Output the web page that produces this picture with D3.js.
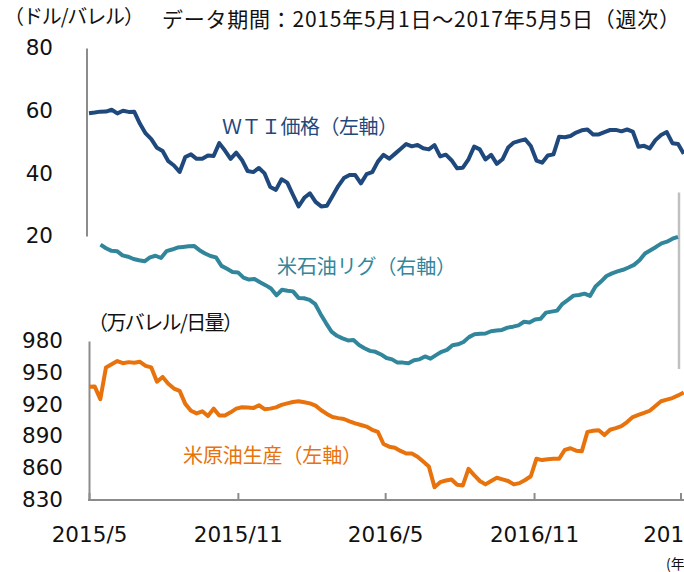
<!DOCTYPE html>
<html lang="ja">
<head>
<meta charset="utf-8">
<script src="https://cdn.jsdelivr.net/npm/d3@7"></script>
<style>
  body { margin: 0; background: #fff; }
  svg { display: block; }
  text { font-family: "Noto Sans CJK JP", sans-serif; }
  .num text { font-family: "DejaVu Sans", "Noto Sans CJK JP", sans-serif; }
</style>
</head>
<body>
<div id="chart"></div>
<script>
// weekly (Fridays) 2015/5/1 - 2017/5/5
const startDate = new Date(Date.UTC(2015, 4, 1));

// WTI price, USD/bbl (left axis, upper)
const wtiPrice = [
  59.15, 59.39, 59.69, 59.72, 60.30, 59.13, 59.96, 59.61, 59.63, 55.8,
  52.74, 50.89, 48.14, 47.12, 43.87, 42.50, 40.45, 45.22, 46.05, 44.63,
  44.68, 45.70, 45.54, 49.63, 47.26, 44.60, 46.59, 44.29, 40.74, 40.39,
  41.71, 39.97, 35.62, 34.73, 38.10, 37.04, 33.16, 29.42, 32.19, 33.62,
  30.89, 29.44, 29.64, 32.78, 35.92, 38.50, 39.44, 39.46, 36.79, 39.72,
  40.36, 43.73, 45.92, 44.66, 46.21, 47.75, 49.33, 48.62, 49.07, 47.98,
  47.64, 48.99, 45.41, 45.95, 44.19, 41.60, 41.80, 44.49, 48.52, 47.64,
  44.44, 45.88, 43.03, 44.48, 48.24, 49.81, 50.35, 50.85, 48.70, 44.07,
  43.41, 45.69, 46.06, 51.68, 51.50, 51.90, 53.02, 53.72, 53.99, 52.37,
  52.42, 53.17, 53.83, 53.86, 53.40, 53.99, 53.33, 48.49, 48.78, 47.97,
  50.60, 52.24, 53.18, 49.62, 49.33, 46.22
];

// US oil rig count (right axis)
const rigCount = [
  679, 668, 660, 659, 646, 642, 635, 631, 628, 640,
  645, 638, 659, 664, 670, 672, 674, 675, 662, 652,
  644, 640, 614, 605, 595, 594, 578, 572, 574, 564,
  555, 545, 524, 541, 538, 536, 516, 515, 510, 498,
  467, 439, 413, 400, 392, 386, 387, 372, 362, 354,
  351, 343, 332, 328, 318, 318, 316, 325, 328, 337,
  330, 341, 351, 357, 371, 374, 381, 396, 405, 406,
  407, 414, 416, 418, 425, 428, 432, 443, 441, 450,
  452, 471, 474, 477, 498, 510, 523, 525, 529, 522,
  551, 566, 583, 591, 597, 602, 609, 617, 631, 652,
  662, 672, 683, 688, 697, 703
];

// US crude production, 10k bbl/day (left axis, lower)
const crudeProd = [
  936.6, 937, 925, 955, 958, 961, 959, 960, 959.5, 960.3,
  956.5, 955, 941.5, 946, 939.5, 935, 932.8, 920.5, 914, 911.5,
  913.5, 909, 916, 909.5, 909.5, 912.5, 916, 917.3, 917, 916.5,
  919.2, 915.5, 916, 917.2, 919.5, 921, 922.3, 923, 922, 921,
  918.8, 914.5, 911, 908, 907, 906.2, 904, 902, 900.5, 899,
  896, 894, 882.5, 880, 879, 876, 873.5, 873.5, 870.5, 866,
  861.3, 841.7, 846.4, 848, 849, 844, 843.3, 859, 853, 847.5,
  844.3, 847.5, 850.6, 849, 847.5, 844.3, 845.5, 848.5, 852, 868.6,
  867.3, 868, 868.5, 868.6, 877, 878.5, 876.2, 875.6, 894, 895,
  895.5, 891, 896, 897.6, 899.5, 903.3, 908, 910, 911.9, 914,
  918.5, 923, 924.5, 926, 928.5, 931.3
];

const wtiTicks = [20, 40, 60, 80];
const prodTicks = [830, 860, 890, 920, 950, 980];
const monthTicks = ["2015-05-01", "2015-11-01", "2016-05-01", "2016-11-01", "2017-05-01"];
const monthLabels = ["2015/5", "2015/11", "2016/5", "2016/11", "2017/5"];

const width = 684, height = 572;
const axisGray = "#8c8c8c";
const colors = { wti: "#1f497d", rig: "#31869b", prod: "#e8720c" };

const weeks = wtiPrice.map((d, i) => d3.utcDay.offset(startDate, i * 7));
const tickDates = monthTicks.map(d => new Date(d + "T00:00:00Z"));

const svg = d3.select("#chart").append("svg")
  .attr("width", width)
  .attr("height", height);

// scales
const x = d3.scaleUtc()
  .domain([tickDates[0], tickDates[4]])
  .range([89, 680.5]);

// the rig panel sits inside its own, slightly narrower, plot area
const xRig = d3.scaleUtc()
  .domain([weeks[0], weeks[weeks.length - 1]])
  .range([100.5, 678]);

const yWti = d3.scaleLinear().domain([20, 80]).range([236, 48]);
const yProd = d3.scaleLinear().domain([830, 980]).range([499.5, 341]);
const yRig = d3.scaleLinear().domain([300, 840]).range([368.5, 192]);

// axes
const gWti = svg.append("g")
  .attr("class", "num")
  .attr("transform", "translate(86.5,0)")
  .call(d3.axisLeft(yWti).tickValues(wtiTicks).tickSize(0).tickPadding(33.5));

const gProd = svg.append("g")
  .attr("class", "num")
  .attr("transform", "translate(89,0)")
  .call(d3.axisLeft(yProd).tickValues(prodTicks).tickSize(0).tickPadding(26));

[gWti, gProd].forEach(g => {
  g.select(".domain").attr("stroke", axisGray).attr("stroke-width", 2);
  g.selectAll("text").attr("font-size", 21.5).attr("fill", "#111");
});

const gRig = svg.append("g")
  .attr("transform", "translate(678.5,0)")
  .call(d3.axisRight(yRig).tickValues([]).tickSizeOuter(0));
gRig.select(".domain").attr("stroke", "#c0c0c0").attr("stroke-width", 2.5);

const gX = svg.append("g")
  .attr("class", "num")
  .attr("transform", "translate(0,500)")
  .call(d3.axisBottom(x)
    .tickValues(tickDates)
    .tickSize(-7)
    .tickPadding(27)
    .tickFormat((d, i) => monthLabels[i]));
gX.select(".domain").remove();
gX.selectAll(".tick line").attr("stroke", axisGray).attr("stroke-width", 2);
gX.selectAll("text").attr("font-size", 21.5).attr("fill", "#111");
gX.append("line")
  .attr("x1", x(tickDates[0]) - 1)
  .attr("x2", width)
  .attr("stroke", axisGray)
  .attr("stroke-width", 2);

// lines
const lineWti = d3.line().x((d, i) => x(weeks[i])).y(d => yWti(d));
const lineProd = d3.line().x((d, i) => x(weeks[i])).y(d => yProd(d));
const lineRig = d3.line().x((d, i) => xRig(weeks[i])).y(d => yRig(d));

[[crudeProd, lineProd, colors.prod], [rigCount, lineRig, colors.rig], [wtiPrice, lineWti, colors.wti]]
  .forEach(([data, gen, c]) => {
    svg.append("path")
      .datum(data)
      .attr("d", gen)
      .attr("fill", "none")
      .attr("stroke", c)
      .attr("stroke-width", 4)
      .attr("stroke-linejoin", "round")
      .attr("stroke-linecap", "butt");
  });

// texts
function label(txt, xPos, yPos, size, fill, len) {
  const t = svg.append("text")
    .attr("x", xPos)
    .attr("y", yPos)
    .attr("font-size", size)
    .attr("fill", fill)
    .text(txt);
  if (len) t.attr("textLength", len).attr("lengthAdjust", "spacing");
  return t;
}

label("（ドル/バレル）", 4, 24, 20, "#111", 140);
label("データ期間：2015年5月1日～2017年5月5日（週次）", 162, 27, 21, "#111", 518)
  .attr("font-family", "DejaVu Sans, Noto Sans CJK JP, sans-serif");
label("ＷＴＩ価格（左軸）", 222, 134, 20, colors.wti, 176);
label("米石油リグ（右軸）", 277, 274, 20, colors.rig, 179);
label("（万バレル/日量）", 88, 330, 20, "#111", 155);
label("米原油生産（左軸）", 183, 463, 20, colors.prod, 179);
label("(年/月)", 666, 569, 14, "#111");
</script>
</body>
</html>
